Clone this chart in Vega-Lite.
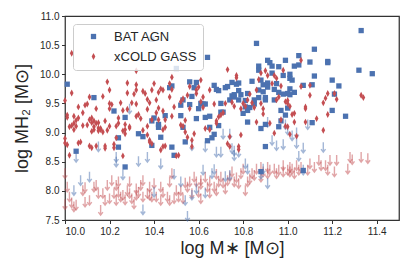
{
  "$schema": "https://vega.github.io/schema/vega-lite/v6.json",
  "width": 334,
  "height": 204,
  "autosize": {"type": "none"},
  "padding": {"left": 65, "top": 16, "right": 12, "bottom": 54},
  "background": "white",
  "config": {
    "font": "Liberation Sans",
    "view": {"stroke": "#333333", "strokeWidth": 1.25},
    "axis": {"domain": false, "grid": false, "tickColor": "#333333", "tickSize": 3.5, "tickWidth": 1, "labelFontSize": 10, "labelColor": "#262626", "titleFontSize": 18, "titleFontWeight": "normal", "titleColor": "#262626", "labelFont": "Liberation Sans", "titleFont": "Liberation Sans"}
  },
  "datasets": {
    "det": [
      {"x":10.01,"y":9.83,"s":"BAT AGN"},{"x":10.13,"y":9.60,"s":"BAT AGN"},{"x":10.05,"y":8.68,"s":"BAT AGN"},{"x":10.22,"y":9.37,"s":"BAT AGN"},{"x":10.24,"y":8.75,"s":"BAT AGN"},{"x":10.24,"y":8.91,"s":"BAT AGN"},{"x":10.27,"y":9.26,"s":"BAT AGN"},{"x":10.27,"y":8.41,"s":"BAT AGN"},{"x":10.33,"y":8.98,"s":"BAT AGN"},{"x":10.35,"y":8.93,"s":"BAT AGN"},{"x":10.39,"y":9.20,"s":"BAT AGN"},{"x":10.40,"y":9.25,"s":"BAT AGN"},{"x":10.39,"y":8.78,"s":"BAT AGN"},{"x":10.42,"y":9.14,"s":"BAT AGN"},{"x":10.42,"y":9.09,"s":"BAT AGN"},{"x":10.43,"y":8.92,"s":"BAT AGN"},{"x":10.45,"y":9.29,"s":"BAT AGN"},{"x":10.47,"y":9.77,"s":"BAT AGN"},{"x":10.48,"y":9.80,"s":"BAT AGN"},{"x":10.50,"y":10.10,"s":"BAT AGN"},{"x":10.48,"y":8.75,"s":"BAT AGN"},{"x":10.49,"y":8.61,"s":"BAT AGN"},{"x":10.52,"y":9.47,"s":"BAT AGN"},{"x":10.52,"y":9.29,"s":"BAT AGN"},{"x":10.53,"y":9.56,"s":"BAT AGN"},{"x":10.54,"y":8.84,"s":"BAT AGN"},{"x":10.53,"y":9.09,"s":"BAT AGN"},{"x":10.56,"y":9.48,"s":"BAT AGN"},{"x":10.56,"y":9.87,"s":"BAT AGN"},{"x":10.57,"y":9.62,"s":"BAT AGN"},{"x":10.58,"y":9.77,"s":"BAT AGN"},{"x":10.59,"y":9.86,"s":"BAT AGN"},{"x":10.59,"y":9.24,"s":"BAT AGN"},{"x":10.60,"y":9.41,"s":"BAT AGN"},{"x":10.61,"y":9.50,"s":"BAT AGN"},{"x":10.62,"y":9.49,"s":"BAT AGN"},{"x":10.63,"y":9.49,"s":"BAT AGN"},{"x":10.63,"y":9.26,"s":"BAT AGN"},{"x":10.64,"y":10.29,"s":"BAT AGN"},{"x":10.64,"y":8.86,"s":"BAT AGN"},{"x":10.65,"y":9.09,"s":"BAT AGN"},{"x":10.65,"y":9.28,"s":"BAT AGN"},{"x":10.66,"y":8.91,"s":"BAT AGN"},{"x":10.67,"y":8.97,"s":"BAT AGN"},{"x":10.67,"y":9.81,"s":"BAT AGN"},{"x":10.68,"y":9.74,"s":"BAT AGN"},{"x":10.69,"y":9.72,"s":"BAT AGN"},{"x":10.70,"y":9.50,"s":"BAT AGN"},{"x":10.70,"y":9.35,"s":"BAT AGN"},{"x":10.71,"y":9.35,"s":"BAT AGN"},{"x":10.72,"y":9.77,"s":"BAT AGN"},{"x":10.73,"y":9.79,"s":"BAT AGN"},{"x":10.74,"y":9.56,"s":"BAT AGN"},{"x":10.75,"y":9.63,"s":"BAT AGN"},{"x":10.75,"y":9.86,"s":"BAT AGN"},{"x":10.76,"y":9.61,"s":"BAT AGN"},{"x":10.76,"y":9.65,"s":"BAT AGN"},{"x":10.77,"y":9.83,"s":"BAT AGN"},{"x":10.78,"y":9.72,"s":"BAT AGN"},{"x":10.78,"y":9.56,"s":"BAT AGN"},{"x":10.78,"y":9.85,"s":"BAT AGN"},{"x":10.79,"y":9.65,"s":"BAT AGN"},{"x":10.80,"y":9.33,"s":"BAT AGN"},{"x":10.81,"y":9.44,"s":"BAT AGN"},{"x":10.81,"y":9.55,"s":"BAT AGN"},{"x":10.82,"y":9.67,"s":"BAT AGN"},{"x":10.82,"y":9.38,"s":"BAT AGN"},{"x":10.83,"y":9.43,"s":"BAT AGN"},{"x":10.84,"y":9.88,"s":"BAT AGN"},{"x":10.85,"y":9.49,"s":"BAT AGN"},{"x":10.85,"y":9.56,"s":"BAT AGN"},{"x":10.86,"y":10.53,"s":"BAT AGN"},{"x":10.87,"y":9.60,"s":"BAT AGN"},{"x":10.87,"y":9.73,"s":"BAT AGN"},{"x":10.87,"y":10.14,"s":"BAT AGN"},{"x":10.87,"y":10.07,"s":"BAT AGN"},{"x":10.88,"y":9.90,"s":"BAT AGN"},{"x":10.89,"y":9.82,"s":"BAT AGN"},{"x":10.89,"y":9.70,"s":"BAT AGN"},{"x":10.90,"y":9.56,"s":"BAT AGN"},{"x":10.90,"y":9.60,"s":"BAT AGN"},{"x":10.91,"y":9.85,"s":"BAT AGN"},{"x":10.91,"y":10.24,"s":"BAT AGN"},{"x":10.91,"y":9.78,"s":"BAT AGN"},{"x":10.92,"y":10.20,"s":"BAT AGN"},{"x":10.93,"y":10.14,"s":"BAT AGN"},{"x":10.93,"y":10.02,"s":"BAT AGN"},{"x":10.94,"y":9.56,"s":"BAT AGN"},{"x":10.94,"y":9.74,"s":"BAT AGN"},{"x":10.95,"y":9.84,"s":"BAT AGN"},{"x":10.96,"y":10.13,"s":"BAT AGN"},{"x":10.96,"y":9.69,"s":"BAT AGN"},{"x":10.97,"y":9.38,"s":"BAT AGN"},{"x":10.97,"y":9.20,"s":"BAT AGN"},{"x":10.98,"y":9.66,"s":"BAT AGN"},{"x":10.98,"y":9.98,"s":"BAT AGN"},{"x":10.99,"y":10.24,"s":"BAT AGN"},{"x":10.99,"y":9.30,"s":"BAT AGN"},{"x":10.90,"y":8.76,"s":"BAT AGN"},{"x":10.88,"y":8.33,"s":"BAT AGN"},{"x":10.82,"y":9.18,"s":"BAT AGN"},{"x":10.69,"y":9.12,"s":"BAT AGN"},{"x":10.88,"y":9.07,"s":"BAT AGN"},{"x":10.96,"y":9.10,"s":"BAT AGN"},{"x":10.90,"y":9.14,"s":"BAT AGN"},{"x":11.05,"y":10.32,"s":"BAT AGN"},{"x":11.03,"y":10.14,"s":"BAT AGN"},{"x":11.05,"y":10.16,"s":"BAT AGN"},{"x":11.10,"y":10.21,"s":"BAT AGN"},{"x":11.12,"y":10.43,"s":"BAT AGN"},{"x":11.18,"y":10.20,"s":"BAT AGN"},{"x":11.18,"y":10.22,"s":"BAT AGN"},{"x":11.32,"y":10.07,"s":"BAT AGN"},{"x":11.38,"y":10.01,"s":"BAT AGN"},{"x":11.33,"y":10.75,"s":"BAT AGN"},{"x":11.01,"y":10.0,"s":"BAT AGN"},{"x":11.01,"y":9.93,"s":"BAT AGN"},{"x":11.02,"y":9.90,"s":"BAT AGN"},{"x":11.12,"y":9.97,"s":"BAT AGN"},{"x":11.20,"y":9.90,"s":"BAT AGN"},{"x":11.23,"y":9.80,"s":"BAT AGN"},{"x":11.07,"y":9.81,"s":"BAT AGN"},{"x":11.11,"y":9.82,"s":"BAT AGN"},{"x":11.01,"y":9.75,"s":"BAT AGN"},{"x":11.03,"y":9.69,"s":"BAT AGN"},{"x":11.00,"y":9.67,"s":"BAT AGN"},{"x":11.01,"y":9.65,"s":"BAT AGN"},{"x":11.00,"y":9.42,"s":"BAT AGN"},{"x":11.20,"y":9.38,"s":"BAT AGN"},{"x":11.26,"y":9.28,"s":"BAT AGN"},{"x":11.11,"y":9.17,"s":"BAT AGN"},{"x":11.21,"y":9.66,"s":"BAT AGN"},{"x":11.07,"y":8.35,"s":"BAT AGN"},{"x":10.39,"y":10.60,"s":"BAT AGN"},
      {"x":10.03,"y":10.36,"s":"xCOLD GASS"},{"x":10.03,"y":9.68,"s":"xCOLD GASS"},{"x":10.11,"y":9.61,"s":"xCOLD GASS"},{"x":10.17,"y":9.62,"s":"xCOLD GASS"},{"x":10.19,"y":9.87,"s":"xCOLD GASS"},{"x":10.20,"y":9.73,"s":"xCOLD GASS"},{"x":10.28,"y":9.85,"s":"xCOLD GASS"},{"x":10.32,"y":10.06,"s":"xCOLD GASS"},{"x":10.32,"y":9.82,"s":"xCOLD GASS"},{"x":10.32,"y":9.73,"s":"xCOLD GASS"},{"x":10.35,"y":9.71,"s":"xCOLD GASS"},{"x":10.28,"y":9.68,"s":"xCOLD GASS"},{"x":10.31,"y":9.66,"s":"xCOLD GASS"},{"x":10.36,"y":9.67,"s":"xCOLD GASS"},{"x":10.39,"y":9.73,"s":"xCOLD GASS"},{"x":10.40,"y":9.84,"s":"xCOLD GASS"},{"x":10.42,"y":9.69,"s":"xCOLD GASS"},{"x":10.43,"y":9.75,"s":"xCOLD GASS"},{"x":10.44,"y":9.73,"s":"xCOLD GASS"},{"x":10.48,"y":9.74,"s":"xCOLD GASS"},{"x":10.47,"y":9.84,"s":"xCOLD GASS"},{"x":10.48,"y":9.95,"s":"xCOLD GASS"},{"x":10.47,"y":9.61,"s":"xCOLD GASS"},
      {"x":10.0,"y":9.55,"s":"xCOLD GASS"},{"x":10.06,"y":9.44,"s":"xCOLD GASS"},{"x":10.09,"y":9.47,"s":"xCOLD GASS"},{"x":10.10,"y":9.49,"s":"xCOLD GASS"},{"x":10.14,"y":9.41,"s":"xCOLD GASS"},{"x":10.20,"y":9.50,"s":"xCOLD GASS"},{"x":10.21,"y":9.48,"s":"xCOLD GASS"},{"x":10.20,"y":9.41,"s":"xCOLD GASS"},{"x":10.25,"y":9.51,"s":"xCOLD GASS"},{"x":10.26,"y":9.38,"s":"xCOLD GASS"},{"x":10.28,"y":9.40,"s":"xCOLD GASS"},{"x":10.30,"y":9.51,"s":"xCOLD GASS"},{"x":10.32,"y":9.49,"s":"xCOLD GASS"},{"x":10.37,"y":9.57,"s":"xCOLD GASS"},{"x":10.38,"y":9.51,"s":"xCOLD GASS"},{"x":10.42,"y":9.42,"s":"xCOLD GASS"},{"x":10.44,"y":9.37,"s":"xCOLD GASS"},{"x":10.41,"y":9.56,"s":"xCOLD GASS"},{"x":10.49,"y":9.44,"s":"xCOLD GASS"},{"x":10.52,"y":9.53,"s":"xCOLD GASS"},{"x":10.53,"y":9.58,"s":"xCOLD GASS"},{"x":10.01,"y":9.30,"s":"xCOLD GASS"},{"x":10.01,"y":9.26,"s":"xCOLD GASS"},{"x":10.04,"y":9.28,"s":"xCOLD GASS"},{"x":10.06,"y":9.25,"s":"xCOLD GASS"},{"x":10.08,"y":9.34,"s":"xCOLD GASS"},{"x":10.11,"y":9.22,"s":"xCOLD GASS"},{"x":10.12,"y":9.25,"s":"xCOLD GASS"},{"x":10.13,"y":9.20,"s":"xCOLD GASS"},{"x":10.24,"y":9.25,"s":"xCOLD GASS"},{"x":10.18,"y":9.20,"s":"xCOLD GASS"},{"x":10.32,"y":9.28,"s":"xCOLD GASS"},{"x":10.33,"y":9.31,"s":"xCOLD GASS"},{"x":10.34,"y":9.24,"s":"xCOLD GASS"},{"x":10.37,"y":9.40,"s":"xCOLD GASS"},{"x":10.41,"y":9.34,"s":"xCOLD GASS"},{"x":10.39,"y":9.22,"s":"xCOLD GASS"},{"x":10.42,"y":9.22,"s":"xCOLD GASS"},{"x":10.45,"y":9.22,"s":"xCOLD GASS"},{"x":10.48,"y":9.28,"s":"xCOLD GASS"},{"x":10.54,"y":9.21,"s":"xCOLD GASS"},
      {"x":10.02,"y":9.10,"s":"xCOLD GASS"},{"x":10.03,"y":9.12,"s":"xCOLD GASS"},{"x":10.04,"y":9.16,"s":"xCOLD GASS"},{"x":10.05,"y":9.21,"s":"xCOLD GASS"},{"x":10.05,"y":9.11,"s":"xCOLD GASS"},{"x":10.04,"y":9.05,"s":"xCOLD GASS"},{"x":10.08,"y":9.12,"s":"xCOLD GASS"},{"x":10.10,"y":9.13,"s":"xCOLD GASS"},{"x":10.12,"y":9.17,"s":"xCOLD GASS"},{"x":10.12,"y":9.02,"s":"xCOLD GASS"},{"x":10.13,"y":9.10,"s":"xCOLD GASS"},{"x":10.13,"y":9.05,"s":"xCOLD GASS"},{"x":10.14,"y":9.16,"s":"xCOLD GASS"},{"x":10.15,"y":9.17,"s":"xCOLD GASS"},{"x":10.15,"y":9.08,"s":"xCOLD GASS"},{"x":10.15,"y":9.03,"s":"xCOLD GASS"},{"x":10.16,"y":9.07,"s":"xCOLD GASS"},{"x":10.16,"y":9.05,"s":"xCOLD GASS"},{"x":10.17,"y":9.01,"s":"xCOLD GASS"},{"x":10.19,"y":9.04,"s":"xCOLD GASS"},{"x":10.20,"y":9.11,"s":"xCOLD GASS"},{"x":10.23,"y":9.11,"s":"xCOLD GASS"},{"x":10.24,"y":9.16,"s":"xCOLD GASS"},{"x":10.26,"y":9.03,"s":"xCOLD GASS"},{"x":10.27,"y":9.14,"s":"xCOLD GASS"},{"x":10.27,"y":9.05,"s":"xCOLD GASS"},{"x":10.27,"y":8.98,"s":"xCOLD GASS"},{"x":10.29,"y":9.08,"s":"xCOLD GASS"},{"x":10.29,"y":9.10,"s":"xCOLD GASS"},{"x":10.35,"y":9.04,"s":"xCOLD GASS"},{"x":10.37,"y":9.11,"s":"xCOLD GASS"},{"x":10.37,"y":8.96,"s":"xCOLD GASS"},{"x":10.44,"y":9.05,"s":"xCOLD GASS"},{"x":10.45,"y":9.09,"s":"xCOLD GASS"},{"x":10.52,"y":9.13,"s":"xCOLD GASS"},{"x":10.53,"y":9.11,"s":"xCOLD GASS"},{"x":10.54,"y":9.01,"s":"xCOLD GASS"},{"x":10.0,"y":8.90,"s":"xCOLD GASS"},{"x":10.23,"y":8.91,"s":"xCOLD GASS"},
      {"x":10.0,"y":8.82,"s":"xCOLD GASS"},{"x":10.01,"y":8.79,"s":"xCOLD GASS"},{"x":10.02,"y":8.61,"s":"xCOLD GASS"},{"x":10.06,"y":8.82,"s":"xCOLD GASS"},{"x":10.07,"y":8.84,"s":"xCOLD GASS"},{"x":10.11,"y":8.77,"s":"xCOLD GASS"},{"x":10.12,"y":8.74,"s":"xCOLD GASS"},{"x":10.14,"y":8.77,"s":"xCOLD GASS"},{"x":10.18,"y":8.77,"s":"xCOLD GASS"},{"x":10.18,"y":8.73,"s":"xCOLD GASS"},{"x":10.22,"y":8.80,"s":"xCOLD GASS"},{"x":10.22,"y":8.74,"s":"xCOLD GASS"},{"x":10.26,"y":8.60,"s":"xCOLD GASS"},{"x":10.38,"y":8.84,"s":"xCOLD GASS"},{"x":10.38,"y":8.87,"s":"xCOLD GASS"},{"x":10.39,"y":8.81,"s":"xCOLD GASS"},{"x":10.43,"y":8.70,"s":"xCOLD GASS"},{"x":10.44,"y":8.76,"s":"xCOLD GASS"},{"x":10.45,"y":8.77,"s":"xCOLD GASS"},{"x":10.50,"y":8.60,"s":"xCOLD GASS"},{"x":10.51,"y":8.61,"s":"xCOLD GASS"},{"x":10.55,"y":8.92,"s":"xCOLD GASS"},
      {"x":10.55,"y":9.64,"s":"xCOLD GASS"},{"x":10.56,"y":9.79,"s":"xCOLD GASS"},{"x":10.56,"y":9.41,"s":"xCOLD GASS"},{"x":10.57,"y":8.76,"s":"xCOLD GASS"},{"x":10.57,"y":8.87,"s":"xCOLD GASS"},{"x":10.58,"y":8.98,"s":"xCOLD GASS"},{"x":10.59,"y":9.73,"s":"xCOLD GASS"},{"x":10.59,"y":9.67,"s":"xCOLD GASS"},{"x":10.60,"y":9.78,"s":"xCOLD GASS"},{"x":10.61,"y":9.90,"s":"xCOLD GASS"},{"x":10.61,"y":9.53,"s":"xCOLD GASS"},{"x":10.62,"y":9.43,"s":"xCOLD GASS"},{"x":10.62,"y":9.61,"s":"xCOLD GASS"},{"x":10.63,"y":9.07,"s":"xCOLD GASS"},{"x":10.65,"y":9.73,"s":"xCOLD GASS"},{"x":10.65,"y":9.05,"s":"xCOLD GASS"},{"x":10.67,"y":9.49,"s":"xCOLD GASS"},{"x":10.68,"y":9.16,"s":"xCOLD GASS"},{"x":10.68,"y":9.20,"s":"xCOLD GASS"},{"x":10.69,"y":9.27,"s":"xCOLD GASS"},{"x":10.70,"y":9.30,"s":"xCOLD GASS"},{"x":10.71,"y":9.34,"s":"xCOLD GASS"},{"x":10.72,"y":9.50,"s":"xCOLD GASS"},{"x":10.73,"y":8.81,"s":"xCOLD GASS"},{"x":10.73,"y":10.08,"s":"xCOLD GASS"},{"x":10.74,"y":8.76,"s":"xCOLD GASS"},{"x":10.74,"y":8.93,"s":"xCOLD GASS"},{"x":10.75,"y":9.52,"s":"xCOLD GASS"},{"x":10.76,"y":9.45,"s":"xCOLD GASS"},{"x":10.77,"y":9.98,"s":"xCOLD GASS"},{"x":10.77,"y":9.94,"s":"xCOLD GASS"},{"x":10.78,"y":8.76,"s":"xCOLD GASS"},{"x":10.78,"y":8.71,"s":"xCOLD GASS"},{"x":10.79,"y":8.96,"s":"xCOLD GASS"},{"x":10.79,"y":9.41,"s":"xCOLD GASS"},{"x":10.80,"y":9.50,"s":"xCOLD GASS"},{"x":10.81,"y":9.45,"s":"xCOLD GASS"},{"x":10.82,"y":9.56,"s":"xCOLD GASS"},{"x":10.83,"y":9.66,"s":"xCOLD GASS"},{"x":10.84,"y":9.51,"s":"xCOLD GASS"},{"x":10.85,"y":9.43,"s":"xCOLD GASS"},{"x":10.86,"y":9.18,"s":"xCOLD GASS"},{"x":10.86,"y":9.73,"s":"xCOLD GASS"},{"x":10.87,"y":9.91,"s":"xCOLD GASS"},{"x":10.88,"y":10.02,"s":"xCOLD GASS"},{"x":10.88,"y":9.50,"s":"xCOLD GASS"},{"x":10.89,"y":9.41,"s":"xCOLD GASS"},{"x":10.89,"y":9.32,"s":"xCOLD GASS"},{"x":10.90,"y":10.06,"s":"xCOLD GASS"},{"x":10.91,"y":9.98,"s":"xCOLD GASS"},{"x":10.92,"y":9.16,"s":"xCOLD GASS"},{"x":10.93,"y":9.84,"s":"xCOLD GASS"},{"x":10.94,"y":8.99,"s":"xCOLD GASS"},{"x":10.94,"y":9.98,"s":"xCOLD GASS"},{"x":10.95,"y":9.93,"s":"xCOLD GASS"},{"x":10.95,"y":9.56,"s":"xCOLD GASS"},{"x":10.96,"y":9.61,"s":"xCOLD GASS"},{"x":10.97,"y":9.80,"s":"xCOLD GASS"},{"x":10.98,"y":10.07,"s":"xCOLD GASS"},{"x":10.99,"y":9.53,"s":"xCOLD GASS"},{"x":11.00,"y":9.10,"s":"xCOLD GASS"},{"x":11.03,"y":9.33,"s":"xCOLD GASS"},{"x":11.06,"y":10.24,"s":"xCOLD GASS"},{"x":11.06,"y":9.79,"s":"xCOLD GASS"},{"x":11.08,"y":9.44,"s":"xCOLD GASS"},{"x":11.10,"y":9.81,"s":"xCOLD GASS"},{"x":11.13,"y":9.24,"s":"xCOLD GASS"},{"x":11.16,"y":9.04,"s":"xCOLD GASS"},{"x":11.17,"y":9.59,"s":"xCOLD GASS"},{"x":11.18,"y":9.67,"s":"xCOLD GASS"},{"x":11.21,"y":9.67,"s":"xCOLD GASS"},{"x":11.22,"y":9.57,"s":"xCOLD GASS"},{"x":11.33,"y":9.64,"s":"xCOLD GASS"},{"x":11.34,"y":9.60,"s":"xCOLD GASS"},{"x":10.99,"y":9.11,"s":"xCOLD GASS"},{"x":11.0,"y":9.55,"s":"xCOLD GASS"},{"x":11.01,"y":9.45,"s":"xCOLD GASS"},{"x":11.03,"y":9.18,"s":"xCOLD GASS"},{"x":11.08,"y":9.18,"s":"xCOLD GASS"},{"x":11.10,"y":9.64,"s":"xCOLD GASS"},{"x":11.08,"y":9.41,"s":"xCOLD GASS"},{"x":11.01,"y":8.97,"s":"xCOLD GASS"},{"x":11.04,"y":8.94,"s":"xCOLD GASS"},{"x":11.02,"y":9.31,"s":"xCOLD GASS"},{"x":11.18,"y":9.31,"s":"xCOLD GASS"},{"x":11.0,"y":9.50,"s":"xCOLD GASS"},{"x":10.97,"y":9.22,"s":"xCOLD GASS"},{"x":11.16,"y":9.51,"s":"xCOLD GASS"}
    ],
    "bl": [
      {"x":10.05,"y":8.58},{"x":10.07,"y":8.18},{"x":10.11,"y":8.24},{"x":10.15,"y":8.76},{"x":10.23,"y":8.58},{"x":10.23,"y":8.50},{"x":10.26,"y":8.28},{"x":10.29,"y":9.41},{"x":10.33,"y":8.51},{"x":10.35,"y":7.68},{"x":10.37,"y":8.58},{"x":10.43,"y":8.47},{"x":10.49,"y":8.29},{"x":10.40,"y":7.98},{"x":10.52,"y":8.16},{"x":10.54,"y":7.84},{"x":10.55,"y":7.57},{"x":10.57,"y":8.78},{"x":10.59,"y":8.04},{"x":10.63,"y":7.97},{"x":10.63,"y":8.76},{"x":10.66,"y":8.30},{"x":10.67,"y":8.37},{"x":10.68,"y":8.67},{"x":10.71,"y":8.98},{"x":10.72,"y":8.25},{"x":10.74,"y":8.98},{"x":10.74,"y":8.27},{"x":10.75,"y":8.73},{"x":10.76,"y":8.61},{"x":10.76,"y":8.69},{"x":10.78,"y":8.67},{"x":10.81,"y":8.47},{"x":10.82,"y":8.38},{"x":10.88,"y":8.29},{"x":10.89,"y":8.38},{"x":10.91,"y":8.13},{"x":10.91,"y":9.18},{"x":10.93,"y":8.87},{"x":10.95,"y":8.78},{"x":10.98,"y":8.80},{"x":10.99,"y":9.14},{"x":11.0,"y":9.05},{"x":11.02,"y":8.95},{"x":11.04,"y":9.0},{"x":11.04,"y":8.82},{"x":11.07,"y":8.74},{"x":11.05,"y":8.60},{"x":11.09,"y":9.14},{"x":11.16,"y":8.75},{"x":11.07,"y":8.36},{"x":10.04,"y":8.01},{"x":10.57,"y":7.93},{"x":10.62,"y":8.36},{"x":10.70,"y":8.67}
    ],
    "cl": [
      {"x":10.0,"y":8.30},{"x":10.0,"y":7.77},{"x":10.01,"y":8.07},{"x":10.02,"y":7.90},{"x":10.03,"y":7.80},{"x":10.04,"y":7.73},{"x":10.05,"y":7.76},{"x":10.08,"y":8.01},{"x":10.09,"y":8.06},{"x":10.09,"y":7.81},{"x":10.11,"y":7.84},{"x":10.13,"y":8.07},{"x":10.14,"y":8.10},{"x":10.15,"y":7.96},{"x":10.16,"y":7.67},{"x":10.17,"y":7.96},{"x":10.18,"y":7.84},{"x":10.19,"y":8.10},{"x":10.20,"y":7.87},{"x":10.21,"y":8.18},{"x":10.22,"y":7.96},{"x":10.23,"y":7.84},{"x":10.23,"y":8.10},{"x":10.24,"y":8.16},{"x":10.24,"y":7.98},{"x":10.25,"y":7.90},{"x":10.26,"y":7.93},{"x":10.27,"y":7.85},{"x":10.28,"y":8.01},{"x":10.29,"y":8.16},{"x":10.29,"y":7.96},{"x":10.30,"y":7.87},{"x":10.31,"y":7.78},{"x":10.32,"y":7.93},{"x":10.32,"y":8.04},{"x":10.33,"y":7.98},{"x":10.34,"y":8.10},{"x":10.35,"y":7.90},{"x":10.35,"y":8.18},{"x":10.37,"y":7.96},{"x":10.38,"y":8.07},{"x":10.38,"y":7.93},{"x":10.39,"y":7.90},{"x":10.40,"y":8.13},{"x":10.41,"y":7.90},{"x":10.43,"y":8.07},{"x":10.43,"y":7.84},{"x":10.44,"y":7.98},{"x":10.46,"y":7.90},{"x":10.47,"y":8.16},{"x":10.47,"y":7.84},{"x":10.48,"y":8.30},{"x":10.49,"y":7.87},{"x":10.50,"y":8.01},{"x":10.51,"y":7.90},{"x":10.52,"y":8.01},{"x":10.53,"y":7.87},{"x":10.54,"y":8.14},{"x":10.55,"y":8.07},{"x":10.56,"y":8.16},{"x":10.57,"y":7.96},{"x":10.58,"y":8.24},{"x":10.59,"y":8.16},{"x":10.60,"y":7.98},{"x":10.61,"y":8.12},{"x":10.61,"y":7.87},{"x":10.61,"y":8.18},{"x":10.63,"y":8.24},{"x":10.64,"y":8.07},{"x":10.65,"y":7.97},{"x":10.65,"y":8.16},{"x":10.67,"y":8.07},{"x":10.68,"y":8.29},{"x":10.68,"y":8.01},{"x":10.69,"y":8.16},{"x":10.70,"y":8.24},{"x":10.71,"y":8.14},{"x":10.72,"y":8.04},{"x":10.73,"y":8.18},{"x":10.74,"y":8.25},{"x":10.75,"y":8.33},{"x":10.76,"y":8.16},{"x":10.77,"y":8.23},{"x":10.78,"y":8.13},{"x":10.79,"y":8.30},{"x":10.80,"y":8.38},{"x":10.81,"y":8.01},{"x":10.82,"y":8.16},{"x":10.83,"y":8.21},{"x":10.84,"y":8.30},{"x":10.85,"y":8.27},{"x":10.86,"y":8.38},{"x":10.88,"y":8.41},{"x":10.88,"y":8.24},{"x":10.89,"y":8.33},{"x":10.91,"y":8.41},{"x":10.91,"y":8.30},{"x":10.92,"y":8.36},{"x":10.94,"y":8.38},{"x":10.95,"y":8.30},{"x":10.96,"y":8.36},{"x":10.98,"y":8.44},{"x":10.98,"y":8.33},{"x":11.00,"y":8.36},{"x":11.01,"y":8.41},{"x":11.01,"y":8.33},{"x":11.02,"y":8.38},{"x":11.03,"y":8.30},{"x":11.04,"y":8.44},{"x":11.05,"y":8.36},{"x":11.06,"y":8.41},{"x":11.09,"y":8.36},{"x":11.10,"y":8.47},{"x":11.12,"y":8.41},{"x":11.14,"y":8.53},{"x":11.15,"y":8.44},{"x":11.17,"y":8.44},{"x":11.18,"y":8.36},{"x":11.19,"y":8.53},{"x":11.21,"y":8.33},{"x":11.22,"y":8.53},{"x":11.27,"y":8.38},{"x":11.28,"y":8.58},{"x":11.29,"y":8.54},{"x":11.33,"y":8.58},{"x":11.36,"y":8.56}
    ]
  },
  "encoding": {
    "x": {"field": "x", "type": "quantitative", "scale": {"domain": [10, 11.5], "nice": false, "zero": false}, "axis": {"title": "log M∗ [M⊙]", "values": [10, 10.2, 10.4, 10.6, 10.8, 11, 11.2, 11.4], "format": ".1f", "labelPadding": 3, "titlePadding": 3}},
    "y": {"field": "y", "type": "quantitative", "scale": {"domain": [7.5, 11], "nice": false, "zero": false}, "axis": {"title": "log MH₂ [M⊙]", "values": [7.5, 8, 8.5, 9, 9.5, 10, 10.5, 11], "format": ".1f", "labelPadding": 2.5, "titlePadding": 8}}
  },
  "layer": [
    {"data": {"name": "cl"}, "mark": {"type": "point", "shape": "M0,-1L0,1M-0.45,0.4L0,1L0.45,0.4", "filled": false, "stroke": "#c44e52", "strokeWidth": 1.4, "opacity": 0.5, "size": 100}},
    {"data": {"name": "bl"}, "mark": {"type": "point", "shape": "M0,-1L0,1M-0.45,0.4L0,1L0.45,0.4", "filled": false, "stroke": "#4c72b0", "strokeWidth": 1.4, "opacity": 0.5, "size": 100}},
    {"data": {"name": "det"}, "mark": {"type": "point", "filled": true, "opacity": 1, "size": 28, "strokeWidth": 0},
     "encoding": {
       "color": {"field": "s", "type": "nominal", "scale": {"domain": ["BAT AGN", "xCOLD GASS"], "range": ["#4c72b0", "#c44e52"]},
         "legend": {"title": null, "orient": "top-left", "offset": 8, "fillColor": "rgba(255,255,255,0.8)", "strokeColor": "#cccccc", "cornerRadius": 3, "padding": 6, "labelFontSize": 13, "labelColor": "#262626", "labelFont": "Liberation Sans", "symbolSize": 28, "symbolOffset": 8, "labelOffset": 14, "rowPadding": 6, "symbolStrokeWidth": 0}},
       "shape": {"field": "s", "type": "nominal", "scale": {"domain": ["BAT AGN", "xCOLD GASS"], "range": ["square", "M0,-1.3L0.7,0L0,1.3L-0.7,0Z"]},
         "legend": {"title": null, "orient": "top-left", "offset": 8, "fillColor": "rgba(255,255,255,0.8)", "strokeColor": "#cccccc", "cornerRadius": 3, "padding": 6, "labelFontSize": 13, "labelColor": "#262626", "labelFont": "Liberation Sans", "symbolSize": 28, "symbolOffset": 8, "labelOffset": 14, "rowPadding": 6, "symbolStrokeWidth": 0}}
     }}
  ]
}
